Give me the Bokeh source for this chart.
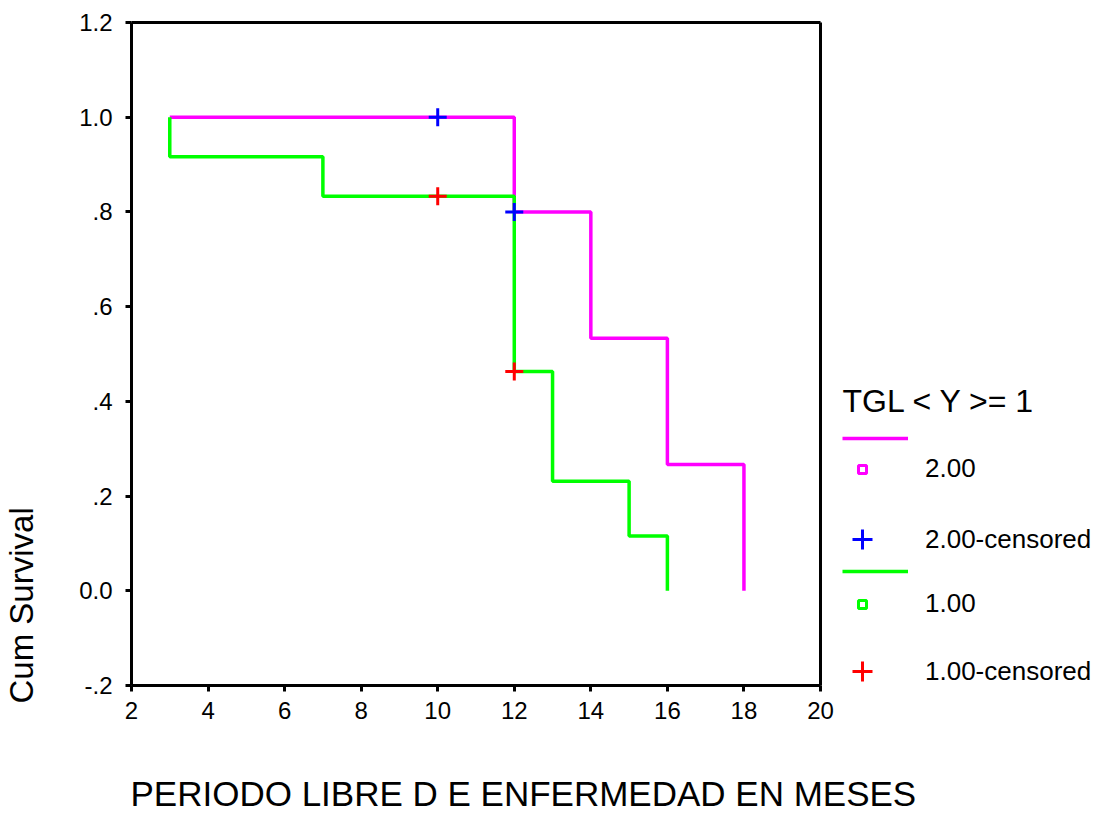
import math
from bokeh.plotting import figure
from bokeh.models import Legend, LegendItem, Label, FixedTicker, LinearAxis, Range1d
from bokeh.embed import file_html
from bokeh.resources import INLINE

nan = float("nan")

# ---- data ----
# group TGL = 2.00 (magenta): Kaplan-Meier step points
g2_time = [3, 12, 14, 16, 18]
g2_surv = [1.0, 0.8, 0.5333, 0.2667, 0.0]
g2_cens_time = [10, 12]
g2_cens_surv = [1.0, 0.8]

# group TGL = 1.00 (green)
g1_time = [3, 3, 7, 12, 13, 15, 16]
g1_surv = [1.0, 0.9167, 0.8333, 0.4630, 0.2315, 0.1157, 0.0]
g1_cens_time = [10, 12]
g1_cens_surv = [0.8333, 0.4630]

x_min, x_max = 2, 20
y_min, y_max = -0.2, 1.2
x_ticks = [2, 4, 6, 8, 10, 12, 14, 16, 18, 20]
y_ticks = [-0.2, 0.0, 0.2, 0.4, 0.6, 0.8, 1.0, 1.2]
y_tick_labels = ["-.2", "0.0", ".2", ".4", ".6", ".8", "1.0", "1.2"]

legend_title = "TGL < Y >= 1"
legend_labels = ["2.00", "2.00-censored", "1.00", "1.00-censored"]
x_title = "PERIODO LIBRE D E ENFERMEDAD EN MESES"
y_title = "Cum Survival"

MAGENTA = "#FF00FF"
GREEN = "#00FF00"
BLUE = "#0000FF"
RED = "#FF0000"
FONT = "Liberation Sans"

# ---- layout constants (canvas px) ----
W, H = 1102, 814
BL, BR, BT, BB = 131, 820, 22, 685   # plot box edges
# The frame covers the whole canvas; the box axes sit at fixed data locations.
kx = (BR - BL) / (x_max - x_min)
ky = (BB - BT) / (y_max - y_min)
x_start, x_end = x_min - BL / kx, x_max + (W - BR) / kx
y_start, y_end = y_min - (H - BB) / ky, y_max + BT / ky

p = figure(width=W, height=H, x_range=Range1d(x_start, x_end),
           y_range=Range1d(y_start, y_end),
           output_backend="svg", toolbar_location=None, min_border=0)
p.grid.visible = False
p.outline_line_color = None
p.background_fill_color = "white"
p.border_fill_color = "white"

for ax in (p.xaxis[0], p.yaxis[0]):
    ax.axis_line_width = 3
    ax.major_tick_line_width = 3
    ax.major_tick_out = 6
    ax.major_tick_in = 0
    ax.minor_tick_line_color = None
    ax.major_label_text_font = FONT
    ax.major_label_text_color = "black"
    ax.major_label_text_font_size = "24px"

p.xaxis.fixed_location = y_min
p.xaxis.bounds = (x_min, x_max)
p.xaxis.ticker = FixedTicker(ticks=x_ticks)
p.xaxis.major_label_standoff = 10

p.yaxis.fixed_location = x_min
p.yaxis.bounds = (y_min, y_max)
p.yaxis.ticker = FixedTicker(ticks=y_ticks)
p.yaxis.major_label_overrides = {t: l for t, l in zip(y_ticks, y_tick_labels)}
p.yaxis.major_label_standoff = 13

# box: top line and right line
box_kw = dict(ticker=FixedTicker(ticks=[]), axis_line_width=3,
              major_tick_line_color=None, minor_tick_line_color=None,
              major_label_text_font_size="0px")
p.add_layout(LinearAxis(fixed_location=y_max, bounds=(x_min, x_max), **box_kw), "above")
p.add_layout(LinearAxis(fixed_location=x_max, bounds=(y_min, y_max), **box_kw), "right")

# ---- survival curves ----
r_g2 = p.step(g2_time, g2_surv, mode="after", line_color=MAGENTA, line_width=3.5)
r_g1 = p.step(g1_time, g1_surv, mode="after", line_color=GREEN, line_width=3.5)
r_c2 = p.scatter(g2_cens_time, g2_cens_surv, marker="cross", size=18,
                 line_color=BLUE, line_width=3)
r_c1 = p.scatter(g1_cens_time, g1_cens_surv, marker="cross", size=18,
                 line_color=RED, line_width=3)
# event symbols: not drawn on the curves (no positions), shown in the key only
r_e2 = p.scatter([nan], [nan], marker="square", size=8, line_color=MAGENTA,
                 fill_color="white", line_width=3)
r_e1 = p.scatter([nan], [nan], marker="square", size=8, line_color=GREEN,
                 fill_color="white", line_width=3)


def text(txt, x, y_base, size_px, angle=0.0):
    """x, y_base in canvas px from the top-left; y_base is the wanted baseline."""
    shift = 0.35 * size_px   # renderer places alphabetic baseline this much lower
    if angle:
        x = x - shift
    else:
        y_base = y_base - shift
    p.add_layout(Label(x=x, y=H - y_base, x_units="screen", y_units="screen",
                       text=txt, text_font=FONT, text_font_size=f"{size_px}px",
                       text_align="left", text_baseline="alphabetic",
                       angle=angle, text_color="black"))


# ---- axis titles ----
text(x_title, 130, 805, 35)
text(y_title, 33, 703, 33, angle=math.pi / 2)

# ---- key ----
text(legend_title, 842, 412, 32)

ROW_H = 30
LABEL_X = 925
MARK_CX = 862


def add_key(renderer, label, glyph_x0, glyph_w, glyph_h, cy):
    h = max(glyph_h, ROW_H)
    standoff = LABEL_X - (glyph_x0 + glyph_w) if label else 0
    leg = Legend(items=[LegendItem(label=label, renderers=[renderer])],
                 location=(glyph_x0, H - (cy + h / 2)),
                 padding=0, margin=0, spacing=0,
                 border_line_alpha=0, background_fill_alpha=0,
                 glyph_width=glyph_w, glyph_height=glyph_h, label_height=ROW_H,
                 label_standoff=standoff, label_text_font=FONT,
                 label_text_font_size="26px", label_text_color="black")
    p.add_layout(leg)


add_key(r_g2, "", 842, 66, 16, 438)
add_key(r_e2, legend_labels[0], MARK_CX - 10, 20, 20, 469)
add_key(r_c2, legend_labels[1], MARK_CX - 25, 50, 50, 539)
add_key(r_g1, "", 842, 66, 16, 571)
add_key(r_e1, legend_labels[2], MARK_CX - 10, 20, 20, 604)
add_key(r_c1, legend_labels[3], MARK_CX - 25, 50, 50, 671)

open("out.html", "w").write(file_html(p, INLINE))
